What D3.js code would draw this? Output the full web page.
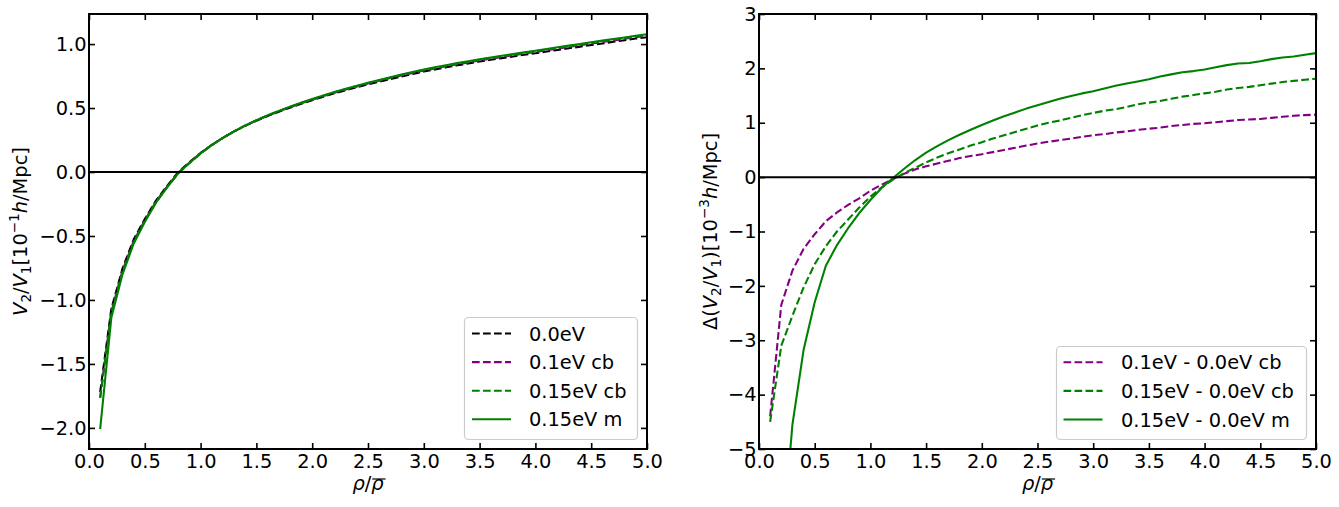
<!DOCTYPE html>
<html><head><meta charset="utf-8">
<script src="https://cdn.jsdelivr.net/npm/d3@7"></script>
<style>
body{margin:0;background:#fff}
svg{display:block}
text{font-family:"DejaVu Sans",sans-serif;fill:#000}
</style>
</head><body>
<svg id="c" width="1339" height="507"></svg>
<script>
// ---------------- data ----------------
const rho = [0.1,0.2,0.3,0.4,0.5,0.6,0.7,0.8,0.9,1.0,
             1.1,1.2,1.3,1.4,1.5,1.6,1.7,1.8,1.9,2.0,
             2.1,2.2,2.3,2.4,2.5,2.6,2.7,2.8,2.9,3.0,
             3.1,3.2,3.3,3.4,3.5,3.6,3.7,3.8,3.9,4.0,
             4.1,4.2,4.3,4.4,4.5,4.6,4.7,4.8,4.9,5.0];

// left panel: V2/V1 [1e-1 h/Mpc]
const v00eV = [-1.72,-1.07,-0.755,-0.528,-0.367,-0.224,-0.108,-0.001,0.077,0.149,
               0.212,0.267,0.317,0.361,0.401,0.437,0.471,0.503,0.533,0.561,
               0.589,0.615,0.639,0.662,0.685,0.706,0.727,0.747,0.767,0.785,
               0.802,0.818,0.834,0.848,0.863,0.877,0.89,0.903,0.916,0.928,
               0.942,0.954,0.967,0.98,0.993,1.005,1.018,1.03,1.043,1.054];
const v01eVcb = [-1.764,-1.094,-0.772,-0.541,-0.378,-0.232,-0.115,-0.006,0.073,0.147,
                 0.211,0.267,0.318,0.362,0.403,0.44,0.474,0.507,0.537,0.565,
                 0.594,0.62,0.644,0.668,0.691,0.713,0.734,0.754,0.774,0.793,
                 0.81,0.826,0.842,0.857,0.872,0.886,0.899,0.913,0.926,0.938,
                 0.952,0.964,0.978,0.991,1.004,1.016,1.029,1.041,1.054,1.066];
const v015eVcb = [-1.765,-1.101,-0.781,-0.548,-0.383,-0.237,-0.118,-0.009,0.071,0.145,
                  0.21,0.267,0.318,0.363,0.404,0.441,0.475,0.508,0.539,0.567,
                  0.596,0.623,0.647,0.671,0.695,0.716,0.737,0.758,0.778,0.797,
                  0.814,0.83,0.847,0.861,0.877,0.891,0.904,0.918,0.931,0.943,
                  0.958,0.97,0.983,0.997,1.01,1.022,1.035,1.048,1.061,1.072];
const v015eVm = [-2.01,-1.14,-0.80,-0.56,-0.39,-0.24,-0.12,-0.01,0.07,0.145,
                 0.21,0.267,0.318,0.364,0.405,0.443,0.478,0.511,0.542,0.571,
                 0.599,0.626,0.651,0.675,0.698,0.72,0.741,0.762,0.782,0.801,
                 0.818,0.835,0.851,0.866,0.881,0.895,0.909,0.922,0.935,0.948,
                 0.962,0.975,0.988,1.001,1.014,1.027,1.04,1.052,1.065,1.077];

// right panel: Delta(V2/V1) [1e-3 h/Mpc]
const d01cb = [-4.4,-2.35,-1.72,-1.32,-1.05,-0.81,-0.65,-0.51,-0.39,-0.25,
               -0.14,-0.04,0.06,0.14,0.2,0.25,0.3,0.35,0.39,0.42,
               0.46,0.5,0.54,0.58,0.62,0.65,0.68,0.71,0.74,0.77,
               0.79,0.82,0.84,0.87,0.89,0.91,0.94,0.96,0.98,0.99,
               1.01,1.03,1.05,1.06,1.07,1.09,1.11,1.13,1.14,1.15];
const d015cb = [-4.5,-3.1,-2.55,-2.03,-1.6,-1.27,-1.0,-0.78,-0.56,-0.36,
                -0.19,-0.05,0.07,0.17,0.27,0.36,0.44,0.51,0.58,0.64,
                0.71,0.77,0.83,0.89,0.95,1.0,1.04,1.09,1.14,1.18,
                1.22,1.25,1.29,1.34,1.37,1.40,1.44,1.48,1.51,1.54,
                1.57,1.61,1.64,1.66,1.69,1.72,1.75,1.77,1.79,1.81];
const d015m = [-29,-7,-4.55,-3.18,-2.3,-1.63,-1.25,-0.94,-0.66,-0.42,
               -0.2,-0.02,0.15,0.31,0.45,0.57,0.68,0.78,0.87,0.96,
               1.04,1.12,1.19,1.26,1.32,1.38,1.44,1.49,1.54,1.58,
               1.63,1.68,1.72,1.76,1.80,1.85,1.89,1.93,1.95,1.98,
               2.02,2.06,2.09,2.10,2.13,2.17,2.20,2.22,2.25,2.28];

const xTicks = [0,0.5,1,1.5,2,2.5,3,3.5,4,4.5,5];
const yTicksLeft = [-2,-1.5,-1,-0.5,0,0.5,1];
const yTicksRight = [-5,-4,-3,-2,-1,0,1,2,3];
const namesLeft = ["0.0eV","0.1eV cb","0.15eV cb","0.15eV m"];
const namesRight = ["0.1eV - 0.0eV cb","0.15eV - 0.0eV cb","0.15eV - 0.0eV m"];

// ---------------- styling ----------------
const FS = 19.4;
const LW = 2.08;
const DASH = "7.7,3.3";
const COL = {black:"#000000", purple:"#800080", green:"#008000"};

const svg = d3.select("#c");

function fmt1(d){ return d3.format(".1f")(d).replace("-", "\u2212"); }
function fmt0(d){ return d3.format("d")(d).replace("-", "\u2212"); }

function panel(o){
  const {id, box, yDomain, yTicks, yFmt, series, names, legendBox, ylabel, ylabelX} = o;
  const x = d3.scaleLinear().domain([0,5]).range([box.x0, box.x1]);
  const y = d3.scaleLinear().domain(yDomain).range([box.y1, box.y0]);
  const g = svg.append("g");

  g.append("clipPath").attr("id","clip"+id).append("rect")
    .attr("x",box.x0).attr("y",box.y0).attr("width",box.x1-box.x0).attr("height",box.y1-box.y0);

  const plot = g.append("g").attr("clip-path","url(#clip"+id+")");
  const line = d3.line().x((d,i)=>x(rho[i])).y(d=>y(d));
  series.forEach(s=>{
    plot.append("path").datum(s.values)
      .attr("d", line).attr("fill","none")
      .attr("stroke", s.color).attr("stroke-width", LW)
      .attr("stroke-dasharray", s.dash ? DASH : null)
      .attr("stroke-linejoin","round");
  });
  plot.append("line").attr("x1",box.x0).attr("x2",box.x1)
    .attr("y1",y(0)).attr("y2",y(0)).attr("stroke","#000").attr("stroke-width",2);

  // axes
  const TS = 6;
  const ax = [
    g.append("g").attr("transform",`translate(0,${box.y1})`)
      .call(d3.axisBottom(x).tickValues(xTicks).tickFormat(fmt1).tickSize(-TS).tickSizeOuter(0).tickPadding(5.2)),
    g.append("g").attr("transform",`translate(0,${box.y0})`)
      .call(d3.axisTop(x).tickValues(xTicks).tickFormat("").tickSize(-TS).tickSizeOuter(0)),
    g.append("g").attr("transform",`translate(${box.x0},0)`)
      .call(d3.axisLeft(y).tickValues(yTicks).tickFormat(yFmt).tickSize(-TS).tickSizeOuter(0).tickPadding(2.5)),
    g.append("g").attr("transform",`translate(${box.x1},0)`)
      .call(d3.axisRight(y).tickValues(yTicks).tickFormat("").tickSize(-TS).tickSizeOuter(0))
  ];
  ax.forEach(a=>{
    a.select(".domain").remove();
    a.selectAll(".tick line").attr("stroke","#000").attr("stroke-width",1.6);
    a.selectAll(".tick text").attr("font-family","DejaVu Sans").attr("font-size",FS).attr("fill","#000");
  });
  g.append("rect").attr("x",box.x0).attr("y",box.y0)
    .attr("width",box.x1-box.x0).attr("height",box.y1-box.y0)
    .attr("fill","none").attr("stroke","#000").attr("stroke-width",2);

  // legend
  const lg = g.append("g");
  lg.append("rect").attr("x",legendBox.x0).attr("y",legendBox.y0)
    .attr("width",legendBox.x1-legendBox.x0).attr("height",legendBox.y1-legendBox.y0)
    .attr("rx",4).attr("fill","#fff").attr("fill-opacity",0.8)
    .attr("stroke","#cccccc").attr("stroke-width",1.2);
  names.forEach((nm,i)=>{
    const s = series[i];
    const yy = legendBox.rowY0 + i*legendBox.rowH;
    lg.append("line").attr("x1",legendBox.hx0).attr("x2",legendBox.hx0+39)
      .attr("y1",yy).attr("y2",yy).attr("stroke",s.color).attr("stroke-width",LW)
      .attr("stroke-dasharray", s.dash ? DASH : null);
    lg.append("text").attr("x",legendBox.tx).attr("y",yy+7)
      .attr("font-size",FS).text(nm);
  });

  // x label: rho / overline(rho)
  const cx = (box.x0+box.x1)/2;
  const xl = g.append("text").attr("x",cx).attr("y",490).attr("text-anchor","middle").attr("font-size",FS);
  xl.append("tspan").attr("font-style","italic").text("\u03C1");
  xl.append("tspan").text("/");
  xl.append("tspan").attr("font-style","italic").text("\u03C1");
  const ext = xl.node().getExtentOfChar(2);
  g.append("line").attr("x1",ext.x+1).attr("x2",ext.x+ext.width+2)
    .attr("y1",479).attr("y2",479).attr("stroke","#000").attr("stroke-width",1.2);

  // y label
  const cy = (box.y0+box.y1)/2;
  const yl = g.append("text").attr("transform",`translate(${ylabelX},${cy}) rotate(-90)`)
    .attr("text-anchor","middle").attr("font-size",FS);
  ylabel.forEach(p=>{
    const t = yl.append("tspan").text(p.t);
    if (p.i) t.attr("font-style","italic");
    if (p.sub){ t.attr("font-size",FS*0.7).attr("dy",4.5); }
    if (p.sup){ t.attr("font-size",FS*0.7).attr("dy",-7.5); }
    if (p.back) t.attr("dy", p.back);
  });
}

const labelLeft = [
  {t:"V",i:true},{t:"2",sub:true},{t:"/",back:-4.5},{t:"V",i:true},{t:"1",sub:true},
  {t:"[10",back:-4.5},{t:"\u22121",sup:true},{t:"h",i:true,back:7.5},{t:"/Mpc]"}
];
const labelRight = [
  {t:"\u0394(",},{t:"V",i:true},{t:"2",sub:true},{t:"/",back:-4.5},{t:"V",i:true},{t:"1",sub:true},
  {t:")[10",back:-4.5},{t:"\u22123",sup:true},{t:"h",i:true,back:7.5},{t:"/Mpc]"}
];

panel({
  id:"L",
  box:{x0:89,x1:647,y0:14,y1:449},
  yDomain:[-2.165,1.235], yTicks:yTicksLeft, yFmt:fmt1,
  series:[
    {values:v00eV, color:COL.black, dash:true},
    {values:v01eVcb, color:COL.purple, dash:true},
    {values:v015eVcb, color:COL.green, dash:true},
    {values:v015eVm, color:COL.green, dash:false}
  ],
  names:namesLeft,
  legendBox:{x0:464.5,x1:637.5,y0:317.5,y1:439.5,rowY0:333.5,rowH:28.6,hx0:472,tx:529},
  ylabel:labelLeft, ylabelX:26.5
});

panel({
  id:"R",
  box:{x0:759,x1:1316,y0:14,y1:449},
  yDomain:[-5,3], yTicks:yTicksRight, yFmt:fmt0,
  series:[
    {values:d01cb, color:COL.purple, dash:true},
    {values:d015cb, color:COL.green, dash:true},
    {values:d015m, color:COL.green, dash:false}
  ],
  names:namesRight,
  legendBox:{x0:1056.5,x1:1306.5,y0:346.5,y1:439.5,rowY0:362.3,rowH:28.6,hx0:1063.5,tx:1121},
  ylabel:labelRight, ylabelX:716.5
});
</script>
</body></html>
